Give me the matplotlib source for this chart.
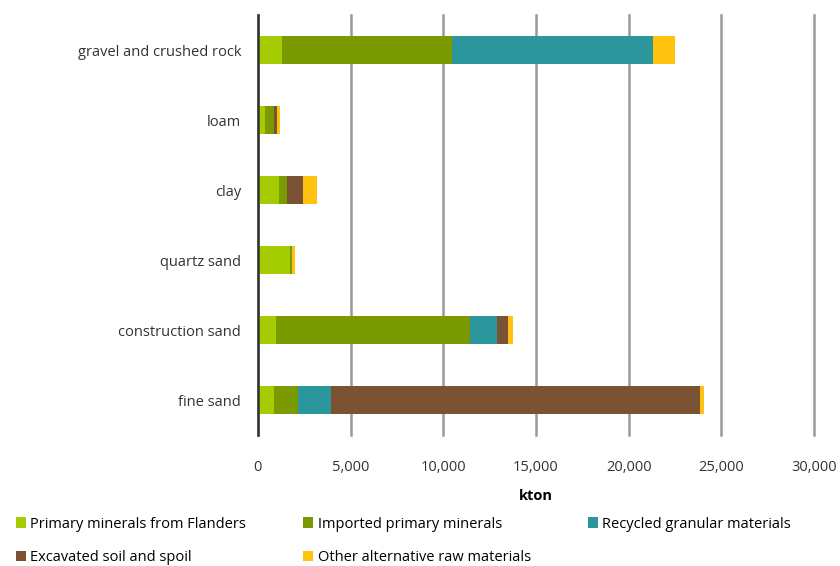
import numpy as np
import matplotlib.pyplot as plt

plt.rcParams['font.family'] = ['Open Sans', 'DejaVu Sans']

categories = ['gravel and crushed rock', 'loam', 'clay', 'quartz sand',
              'construction sand', 'fine sand']
series_names = ['Primary minerals from Flanders', 'Imported primary minerals',
                'Recycled granular materials', 'Excavated soil and spoil',
                'Other alternative raw materials']
primary_flanders = [1310, 380, 1130, 1750, 990, 850]
imported_primary = [9150, 490, 420, 70, 10440, 1310]
recycled_granular = [10870, 0, 0, 0, 1460, 1800]
excavated_soil = [0, 160, 900, 0, 630, 19870]
other_alternative = [1170, 160, 750, 200, 270, 250]
colors = ['#A5CC00', '#7A9A00', '#2B969B', '#7B5233', '#FFC20E']

values = [primary_flanders, imported_primary, recycled_granular,
          excavated_soil, other_alternative]

fig = plt.figure(figsize=(8.4, 5.66), dpi=100)
ax = fig.add_axes([0.307, 0.2314, 0.662, 0.7421])

y = np.arange(len(categories))
left = np.zeros(len(categories))
handles = []
for name, vals, c in zip(series_names, values, colors):
    h = ax.barh(y, vals, left=left, height=0.4, color=c, label=name, zorder=3)
    handles.append(h)
    left += np.array(vals)

ax.set_ylim(len(categories) - 0.5, -0.5)
ax.set_yticks(y)
ax.set_yticklabels(categories, fontsize=10.5, color='#333333')
ax.set_xlim(0, 30000)
ax.set_xticks(np.arange(0, 30001, 5000))
ax.set_xticklabels([f'{v:,}' for v in range(0, 30001, 5000)], fontsize=10.5, color='#333333')
ax.tick_params(axis='y', length=0, pad=12)
ax.tick_params(axis='x', length=0, pad=18)
ax.grid(axis='x', color='#999999', linewidth=1.8, zorder=0)
for gl in ax.get_xgridlines():
    gl.set_clip_on(False)
for s in ['top', 'right', 'bottom']:
    ax.spines[s].set_visible(False)
ax.spines['left'].set_color('#333333')
ax.spines['left'].set_linewidth(1.8)
ax.spines['left'].set_zorder(4)
ax.set_xlabel('kton', fontsize=10.5, fontweight='bold', labelpad=10)

order = [0, 3, 1, 4, 2]
fig.legend([handles[i] for i in order], [series_names[i] for i in order],
           ncol=3, loc='lower left', bbox_to_anchor=(0.003, -0.021), frameon=False,
           fontsize=10.5, handlelength=0.7, handleheight=0.7, handletextpad=0.3,
           columnspacing=3.9, labelspacing=1.25)

fig.savefig('out.png', dpi=100)
